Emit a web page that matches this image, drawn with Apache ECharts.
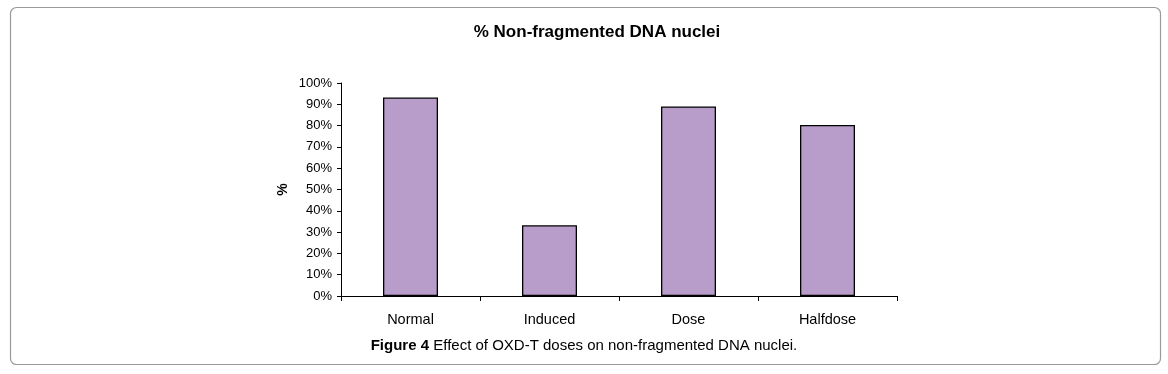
<!DOCTYPE html>
<html><head><meta charset="utf-8">
<script src="https://cdn.jsdelivr.net/npm/echarts@6/dist/echarts.min.js"></script>
<style>html,body{margin:0;padding:0;background:#fff}#c{width:1168px;height:374px}</style>
</head><body><div id="c"></div>
<script>
const categories = ['Normal', 'Induced', 'Dose', 'Halfdose'];
const values = [93.2, 33.2, 89.0, 80.3];
const yTicks = [0, 10, 20, 30, 40, 50, 60, 70, 80, 90, 100];
const titleText = '% Non-fragmented DNA nuclei';
const yAxisName = '%';
const captionBold = 'Figure 4';
const captionText = ' Effect of OXD-T doses on non-fragmented DNA nuclei.';

const narrow = '"Liberation Sans Narrow", "Arial Narrow", "Liberation Sans", sans-serif';
const chart = echarts.init(document.getElementById('c'), null, {renderer: 'canvas'});
chart.setOption({
  animation: false,
  graphic: [
    {type: 'rect', shape: {x: 10.5, y: 7.5, width: 1150, height: 357, r: 6},
     style: {fill: 'none', stroke: '#9a9a9a', lineWidth: 1.2}, z: -1},
    {type: 'text', left: 'center', top: 338,
     style: {rich: {b: {fontFamily: '"Liberation Sans", Arial, sans-serif', fontWeight: 'bold', fontSize: 15, fill: '#000'},
                    n: {fontFamily: '"Liberation Sans", Arial, sans-serif', fontSize: 15, fill: '#000'}},
             text: '{b|' + captionBold + '}{n|' + captionText + '}'}}
  ],
  title: {text: titleText, left: 592, top: 19, textAlign: 'center',
    textStyle: {fontFamily: narrow, fontWeight: 'bold', fontSize: 17, color: '#000'}},
  grid: {left: 341, right: 271, top: 83, bottom: 78, containLabel: false},
  xAxis: {type: 'category', data: categories,
    axisLine: {lineStyle: {color: '#000', width: 1}},
    axisTick: {show: true, length: 5, alignWithLabel: false, lineStyle: {color: '#000'}},
    axisLabel: {fontFamily: narrow, fontSize: 14.5, color: '#000', margin: 16}},
  yAxis: {type: 'value', min: 0, max: 100, interval: 10,
    name: yAxisName, nameLocation: 'middle', nameGap: 51, nameRotate: 90,
    nameTextStyle: {fontFamily: narrow, fontWeight: 'bold', fontSize: 14, color: '#000'},
    axisLine: {show: true, lineStyle: {color: '#000', width: 1}},
    axisTick: {show: true, length: 4, inside: false, lineStyle: {color: '#000'}},
    splitLine: {show: false},
    axisLabel: {fontFamily: narrow, fontSize: 13, color: '#000', margin: 9,
      formatter: v => yTicks.includes(v) ? v + '%' : ''}},
  series: [{type: 'bar', data: values, barWidth: 55,
    itemStyle: {color: '#b89cc9', borderColor: '#000', borderWidth: 1.3}}]
});
</script></body></html>
